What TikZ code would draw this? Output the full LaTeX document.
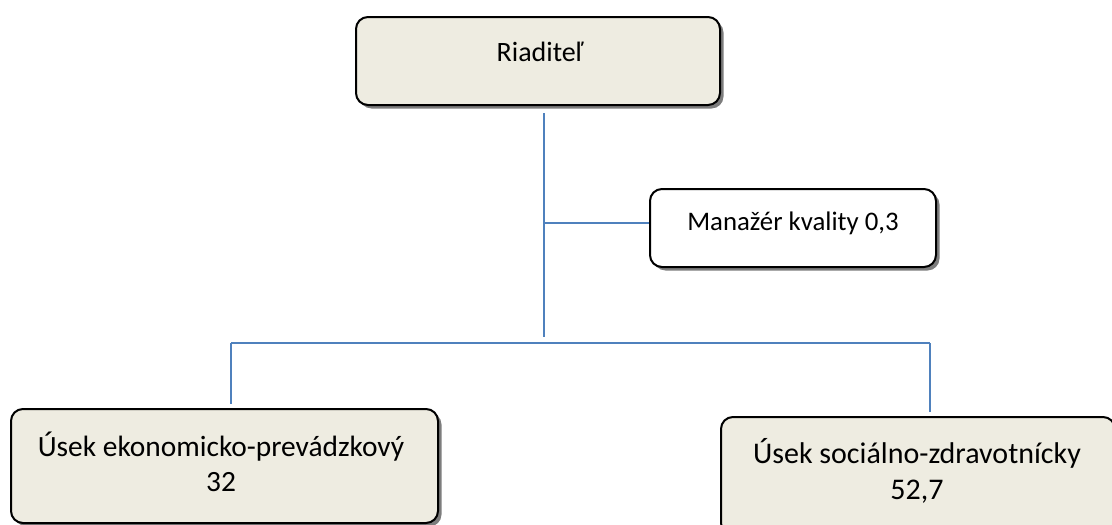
\documentclass[tikz,border=0pt]{standalone}
\usepackage{fontspec}
\setmainfont{Carlito}
\usetikzlibrary{shadows}
\definecolor{linkblue}{HTML}{4F81BD}
\definecolor{boxfill}{HTML}{EEECE1}

\begin{document}
\begin{tikzpicture}[x=1pt,y=-1pt,
    box/.style={draw=black,line width=2pt,rounded corners=12pt,fill=boxfill,inner sep=0pt,
      drop shadow={shadow xshift=3.5pt,shadow yshift=-3.5pt,fill=black!60,opacity=0.85}},
    link/.style={draw=linkblue,line width=1.8pt}]
        \useasboundingbox (0,0) rectangle (1112,525);

        % Boxes
        \node[box,minimum width=364pt,minimum height=88pt] (dir) at (538,61) {};
        \node[box,fill=white,minimum width=286pt,minimum height=78pt] (mgr) at (793,228) {};
        \node[box,minimum width=427pt,minimum height=114pt] (eko) at (224.5,466) {};
        \node[box,minimum width=394pt,minimum height=118pt] (soc) at (918,476) {};

        % Texts
        \node[font=\fontsize{28}{33}\selectfont] (dirtxt) at (540,52) {Riaditeľ};
        \node[font=\fontsize{26.8}{32}\selectfont] (mgrtxt) at (793,223) {Manažér kvality 0,3};
        \node[font=\fontsize{29.4}{35}\selectfont,align=center] (ekotxt) at (221,462) {Úsek ekonomicko-prevádzkový\\32};
        \node[font=\fontsize{30}{36}\selectfont,align=center] (soctxt) at (917,471) {Úsek sociálno-zdravotnícky\\52,7};

        % Connectors
        \coordinate (trunk) at (544,337);
        \coordinate (busL) at (231,343);
        \coordinate (busR) at (930,343);
        \draw[link,shorten <=7pt] (dir.south -| trunk) -- (trunk);
        \draw[link] (trunk |- mgrtxt) -- (mgr.west |- mgrtxt);
        \draw[link] (busL) -- (busR);
        \draw[link,shorten >=4pt] (busL) -- (eko.north -| busL);
        \draw[link,shorten >=4pt] (busR) -- (soc.north -| busR);
    \end{tikzpicture}
\end{document}
